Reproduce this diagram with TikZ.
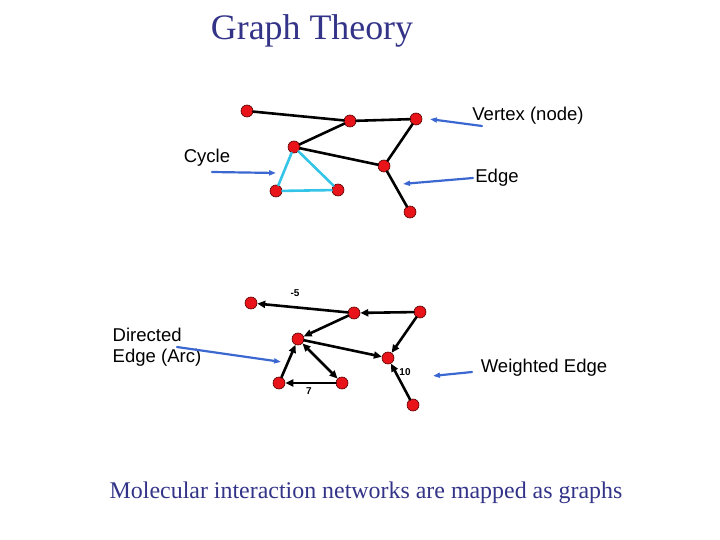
\documentclass[tikz,border=0pt]{standalone}
\usepackage{fontspec}
\setmainfont{Liberation Serif}
\setsansfont{Liberation Sans}
\usetikzlibrary{arrows.meta}
\definecolor{titleblue}{HTML}{333388}
\definecolor{pointblue}{HTML}{3A68D0}
\definecolor{cyclecyan}{HTML}{33C4E8}
\definecolor{vtxred}{HTML}{E8141A}

\begin{document}
\begin{tikzpicture}[x=1bp,y=-1bp,line cap=round,line join=round,
  vtx/.style={circle,draw=red!35!black,fill=vtxred,line width=0.6pt,minimum size=12bp,inner sep=0pt},
  edge/.style={line width=2.6pt},
  cyc/.style={line width=2.6pt,draw=cyclecyan},
  arc/.style={line width=2.6pt,-{Triangle[length=8pt,width=7pt]}},
  pointer/.style={line width=2.2pt,draw=pointblue,-{Triangle[length=7pt,width=5pt]},shorten >=1pt},
  lbl/.style={font=\sffamily\fontsize{18.6}{20.5}\selectfont},
  wgt/.style={font=\sffamily\bfseries\fontsize{10}{12}\selectfont}]
\useasboundingbox (0,0) rectangle (720,540);
\node[font=\fontsize{36}{40}\selectfont,text=titleblue] (title) at (312,31) {Graph Theory};
% undirected graph
\node[vtx] (a) at (247,111) {};
\node[vtx] (b) at (350,121) {};
\node[vtx] (c) at (416,119) {};
\node[vtx] (d) at (294,147) {};
\node[vtx] (e) at (384,166) {};
\node[vtx] (f) at (276,191) {};
\node[vtx] (g) at (338,190) {};
\node[vtx] (h) at (410,212) {};
\draw[edge] (a) -- (b);
\draw[edge] (b) -- (c);
\draw[edge] (b) -- (d);
\draw[edge] (d) -- (e);
\draw[edge] (c) -- (e);
\draw[edge] (e) -- (h);
\draw[cyc] (d) -- (f);
\draw[cyc] (d) -- (g);
\draw[cyc] (f) -- (g);
\node[lbl] (vertexlbl) at (528,116) {Vertex (node)};
\node[lbl] (cyclelbl) at (207,158) {Cycle};
\node[lbl] (edgelbl) at (497,178) {Edge};
\coordinate (vfrom) at (482,126);
\coordinate (vto) at (429,119);
\coordinate (cfrom) at (212,172);
\coordinate (cto) at (277,173);
\coordinate (efrom) at (473,178);
\coordinate (eto) at (402,184);
\draw[pointer] (vfrom) -- (vto);
\draw[pointer] (cfrom) -- (cto);
\draw[pointer] (efrom) -- (eto);
% directed, weighted graph
\node[vtx] (p) at (251,303) {};
\node[vtx] (q) at (354,313) {};
\node[vtx] (r) at (420,312) {};
\node[vtx] (s) at (298,339) {};
\node[vtx] (t) at (388,358) {};
\node[vtx] (u) at (279,383) {};
\node[vtx] (v) at (342,383) {};
\node[vtx] (w) at (413,405) {};
\draw[arc] (q) -- (p);
\draw[arc] (r) -- (q);
\draw[arc] (q) -- (s);
\draw[arc] (s) -- (t);
\draw[arc] (r) -- (t);
\draw[arc] (w) -- (t);
\draw[arc] (u) -- (s);
\draw[arc,{Triangle[length=8pt,width=7pt]}-{Triangle[length=8pt,width=7pt]}] (s) -- (v);
\draw[arc] (v) -- (u);
\node[wgt] (wq) at (295,293) {-5};
\node[wgt] (wt) at (405,372) {10};
\node[wgt] (wv) at (309,391) {7};
\node[lbl,align=left] (arclbl) at (157,347) {Directed\\Edge (Arc)};
\node[lbl] (weightlbl) at (544,368) {Weighted Edge};
\coordinate (afrom) at (177,347);
\coordinate (ato) at (282,362);
\coordinate (wfrom) at (472,372);
\coordinate (wto) at (432,376);
\draw[pointer] (afrom) -- (ato);
\draw[pointer] (wfrom) -- (wto);
\node[font=\fontsize{24}{27}\selectfont,text=titleblue] (caption) at (366,493) {Molecular interaction networks are mapped as graphs};
\end{tikzpicture}
\end{document}
